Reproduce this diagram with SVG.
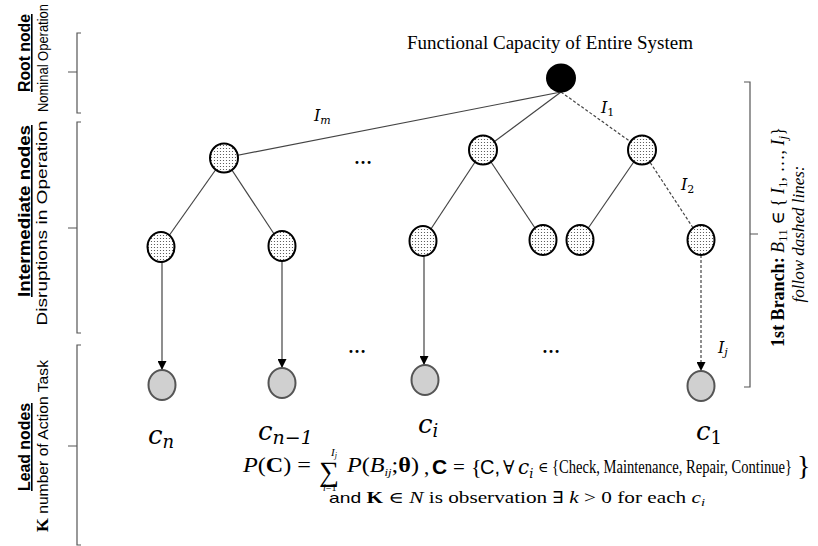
<svg xmlns="http://www.w3.org/2000/svg" width="818" height="546" viewBox="0 0 818 546">
<defs>
<pattern id="dots" width="3" height="3" patternUnits="userSpaceOnUse">
<rect width="3" height="3" fill="#ffffff"/>
<circle cx="1.5" cy="1.5" r="0.6" fill="#444"/>
</pattern>
<marker id="arr" viewBox="0 0 10 10" refX="10" refY="5" markerWidth="9" markerHeight="9" markerUnits="userSpaceOnUse" orient="auto">
<path d="M0,0 L10,5 L0,10 z" fill="#000"/>
</marker>
</defs>
<style>
.mid{fill:url(#dots);stroke:#000;stroke-width:2}
.leaf{fill:#d0d0d0;stroke:#555;stroke-width:2}
.edge{stroke:#444;stroke-width:1.2;fill:none}
.dash{stroke:#444;stroke-width:1.2;fill:none;stroke-dasharray:3,2}
.brk{stroke:#555;stroke-width:1.2;fill:none}
.serif{font-family:"Liberation Serif","DejaVu Serif",serif;fill:#000}
.sans{font-family:"Liberation Sans","Open Sans",sans-serif;fill:#000}
.math{font-family:"DejaVu Serif","Liberation Serif",serif;font-style:italic;fill:#000}
</style>
<rect width="818" height="546" fill="#fff"/>

<g id="left-labels">
<path class="brk" d="M81,33 H77 V113 H81 M77,72 H68"/>
<path class="brk" d="M81,122 H77 V333 H81 M77,228 H68"/>
<path class="brk" d="M81,345 H77 V545 H81 M77,446 H68"/>
<text class="sans" transform="translate(30,53) rotate(-90)" text-anchor="middle" font-size="16" font-weight="bold" text-decoration="underline" textLength="78" lengthAdjust="spacingAndGlyphs">Root node</text>
<text class="sans" transform="translate(48,58) rotate(-90)" text-anchor="middle" font-size="15" textLength="108" lengthAdjust="spacingAndGlyphs">Nominal Operation</text>
<text class="sans" transform="translate(30,211) rotate(-90)" text-anchor="middle" font-size="16" font-weight="bold" text-decoration="underline" textLength="172" lengthAdjust="spacingAndGlyphs">Intermediate nodes</text>
<text class="sans" transform="translate(47,223) rotate(-90)" text-anchor="middle" font-size="15" textLength="205" lengthAdjust="spacingAndGlyphs">Disruptions in Operation</text>
<text class="sans" transform="translate(30,447) rotate(-90)" text-anchor="middle" font-size="16" font-weight="bold" text-decoration="underline" textLength="88" lengthAdjust="spacingAndGlyphs">Lead nodes</text>
<text class="sans" transform="translate(48,446) rotate(-90)" text-anchor="middle" font-size="15" textLength="172" lengthAdjust="spacingAndGlyphs"><tspan class="serif" font-weight="bold" font-size="17">K</tspan> number of Action Task</text>
</g>

<g id="right-labels">
<path class="brk" d="M744,82 H750 V387 H744 M750,234 H758"/>
<text class="serif" transform="translate(784,237) rotate(-90)" text-anchor="middle" font-size="18"><tspan font-weight="bold">1st Branch:</tspan> <tspan font-style="italic">B</tspan><tspan font-size="13" dy="3">11</tspan><tspan dy="-3"> ∈ { </tspan><tspan font-style="italic">I</tspan><tspan font-size="13" dy="3">1</tspan><tspan dy="-3">, …, </tspan><tspan font-style="italic">I</tspan><tspan font-size="13" font-style="italic" dy="3">j</tspan><tspan dy="-3">}</tspan></text>
<text class="serif" transform="translate(804,234) rotate(-90)" text-anchor="middle" font-size="17" font-style="italic">follow dashed lines:</text>
</g>

<text class="serif" x="550" y="49" text-anchor="middle" font-size="19">Functional Capacity of Entire System</text>

<g id="connectors">
<line class="edge" x1="561" y1="92" x2="224" y2="158"/>
<line class="edge" x1="561" y1="92" x2="483" y2="150"/>
<line class="dash" x1="561" y1="92" x2="642" y2="150"/>
<line class="edge" x1="224" y1="158" x2="161" y2="247"/>
<line class="edge" x1="224" y1="158" x2="282" y2="246"/>
<line class="edge" x1="483" y1="150" x2="423" y2="241"/>
<line class="edge" x1="483" y1="150" x2="543" y2="240"/>
<line class="edge" x1="642" y1="150" x2="580" y2="240"/>
<line class="dash" x1="642" y1="150" x2="701" y2="240"/>
<line class="edge" x1="162" y1="262" x2="162" y2="370" marker-end="url(#arr)"/>
<line class="edge" x1="282" y1="261" x2="282" y2="368" marker-end="url(#arr)"/>
<line class="edge" x1="424" y1="256" x2="424" y2="365" marker-end="url(#arr)"/>
<line class="dash" x1="701" y1="255" x2="701" y2="371" marker-end="url(#arr)"/>
</g>

<g id="edge-labels" class="math" font-size="16">
<text x="314" y="121">I<tspan font-size="11" dy="3">m</tspan></text>
<text x="601" y="113">I<tspan font-size="11" font-style="normal" dy="3">1</tspan></text>
<text x="681" y="190">I<tspan font-size="11" font-style="normal" dy="3">2</tspan></text>
<text x="718" y="353">I<tspan font-size="11" dy="3">j</tspan></text>
</g>

<g id="ellipses" class="serif" font-size="18" font-weight="bold">
<text x="363" y="164" text-anchor="middle">…</text>
<text x="357" y="353" text-anchor="middle">…</text>
<text x="551" y="353" text-anchor="middle">…</text>
</g>

<g id="root"><ellipse cx="561" cy="78" rx="15" ry="14.5" fill="#000"/></g>

<g id="n1a"><ellipse class="mid" cx="224" cy="158" rx="14" ry="14.5"/></g>
<g id="n1b"><ellipse class="mid" cx="483" cy="150" rx="14" ry="14.5"/></g>
<g id="n1c"><ellipse class="mid" cx="642" cy="150" rx="14" ry="14.5"/></g>

<g id="n2a"><ellipse class="mid" cx="161" cy="247" rx="13.5" ry="15"/></g>
<g id="n2b"><ellipse class="mid" cx="282" cy="246" rx="13.5" ry="15"/></g>
<g id="n2c"><ellipse class="mid" cx="423" cy="241" rx="13.5" ry="15"/></g>
<g id="n2d"><ellipse class="mid" cx="543" cy="240" rx="13.5" ry="15"/></g>
<g id="n2e"><ellipse class="mid" cx="580" cy="240" rx="13.5" ry="15"/></g>
<g id="n2f"><ellipse class="mid" cx="701" cy="240" rx="13.5" ry="15"/></g>

<g id="leaf-cn"><ellipse class="leaf" cx="162" cy="385" rx="13.5" ry="15"/><text class="math" x="148" y="444" font-size="26">c<tspan font-size="18" dy="4">n</tspan></text></g>
<g id="leaf-cn1"><ellipse class="leaf" cx="282" cy="383" rx="13.5" ry="15"/><text class="math" x="258" y="440" font-size="26">c<tspan font-size="19" dy="4">n−1</tspan></text></g>
<g id="leaf-ci"><ellipse class="leaf" cx="425" cy="380" rx="13.5" ry="15"/><text class="math" x="418" y="433" font-size="26">c<tspan font-size="18" dy="4">i</tspan></text></g>
<g id="leaf-c1"><ellipse class="leaf" cx="701" cy="386" rx="13.5" ry="15"/><text class="math" x="696" y="440" font-size="26">c<tspan font-size="18" font-style="normal" dy="4">1</tspan></text></g>

<g id="formula">
<text class="serif" x="243" y="472" font-size="21" textLength="68" lengthAdjust="spacingAndGlyphs"><tspan font-style="italic">P</tspan>(<tspan font-weight="bold">C</tspan>) =</text>
<text class="serif" x="319" y="481" font-size="28">∑</text>
<text class="serif" x="331" y="456" font-size="11" font-style="italic">I<tspan font-size="8" dy="2">j</tspan></text>
<text class="serif" x="323" y="491" font-size="10"><tspan font-style="italic">i</tspan>=1</text>
<text class="serif" x="347" y="472" font-size="21" textLength="72" lengthAdjust="spacingAndGlyphs"><tspan font-style="italic">P</tspan>(<tspan font-style="italic">B</tspan><tspan font-size="11" font-style="italic" dy="4">ij</tspan><tspan dy="-4">;</tspan><tspan font-weight="bold">θ</tspan>)</text>
<text class="serif" x="424" y="474" font-size="21">,</text>
<text class="sans" x="432" y="474" font-size="21" font-weight="bold">C</text>
<text class="serif" x="453" y="474" font-size="21">=</text>
<text class="serif" x="471" y="474" font-size="22">{</text>
<text class="sans" x="480" y="474" font-size="20">C,</text>
<text class="serif" x="503" y="474" font-size="19">∀</text>
<text class="math" x="518" y="474" font-size="20">c<tspan font-size="13" dy="4">i</tspan></text>
<text class="serif" x="538" y="472" font-size="14">∈</text>
<text class="serif" x="552" y="473" font-size="18.5" textLength="240" lengthAdjust="spacingAndGlyphs">{Check, Maintenance, Repair, Continue}</text>
<text class="serif" x="797" y="475" font-size="28">}</text>
<text class="serif" x="329" y="503" font-size="16" textLength="376" lengthAdjust="spacingAndGlyphs"><tspan class="sans" font-size="14.5">and </tspan><tspan font-weight="bold">K</tspan> ∈ <tspan font-style="italic">N</tspan> is observation ∃ <tspan font-style="italic">k</tspan> &gt; 0 for each <tspan font-style="italic">c</tspan><tspan font-size="11" font-style="italic" dy="3">i</tspan></text>
</g>
</svg>
